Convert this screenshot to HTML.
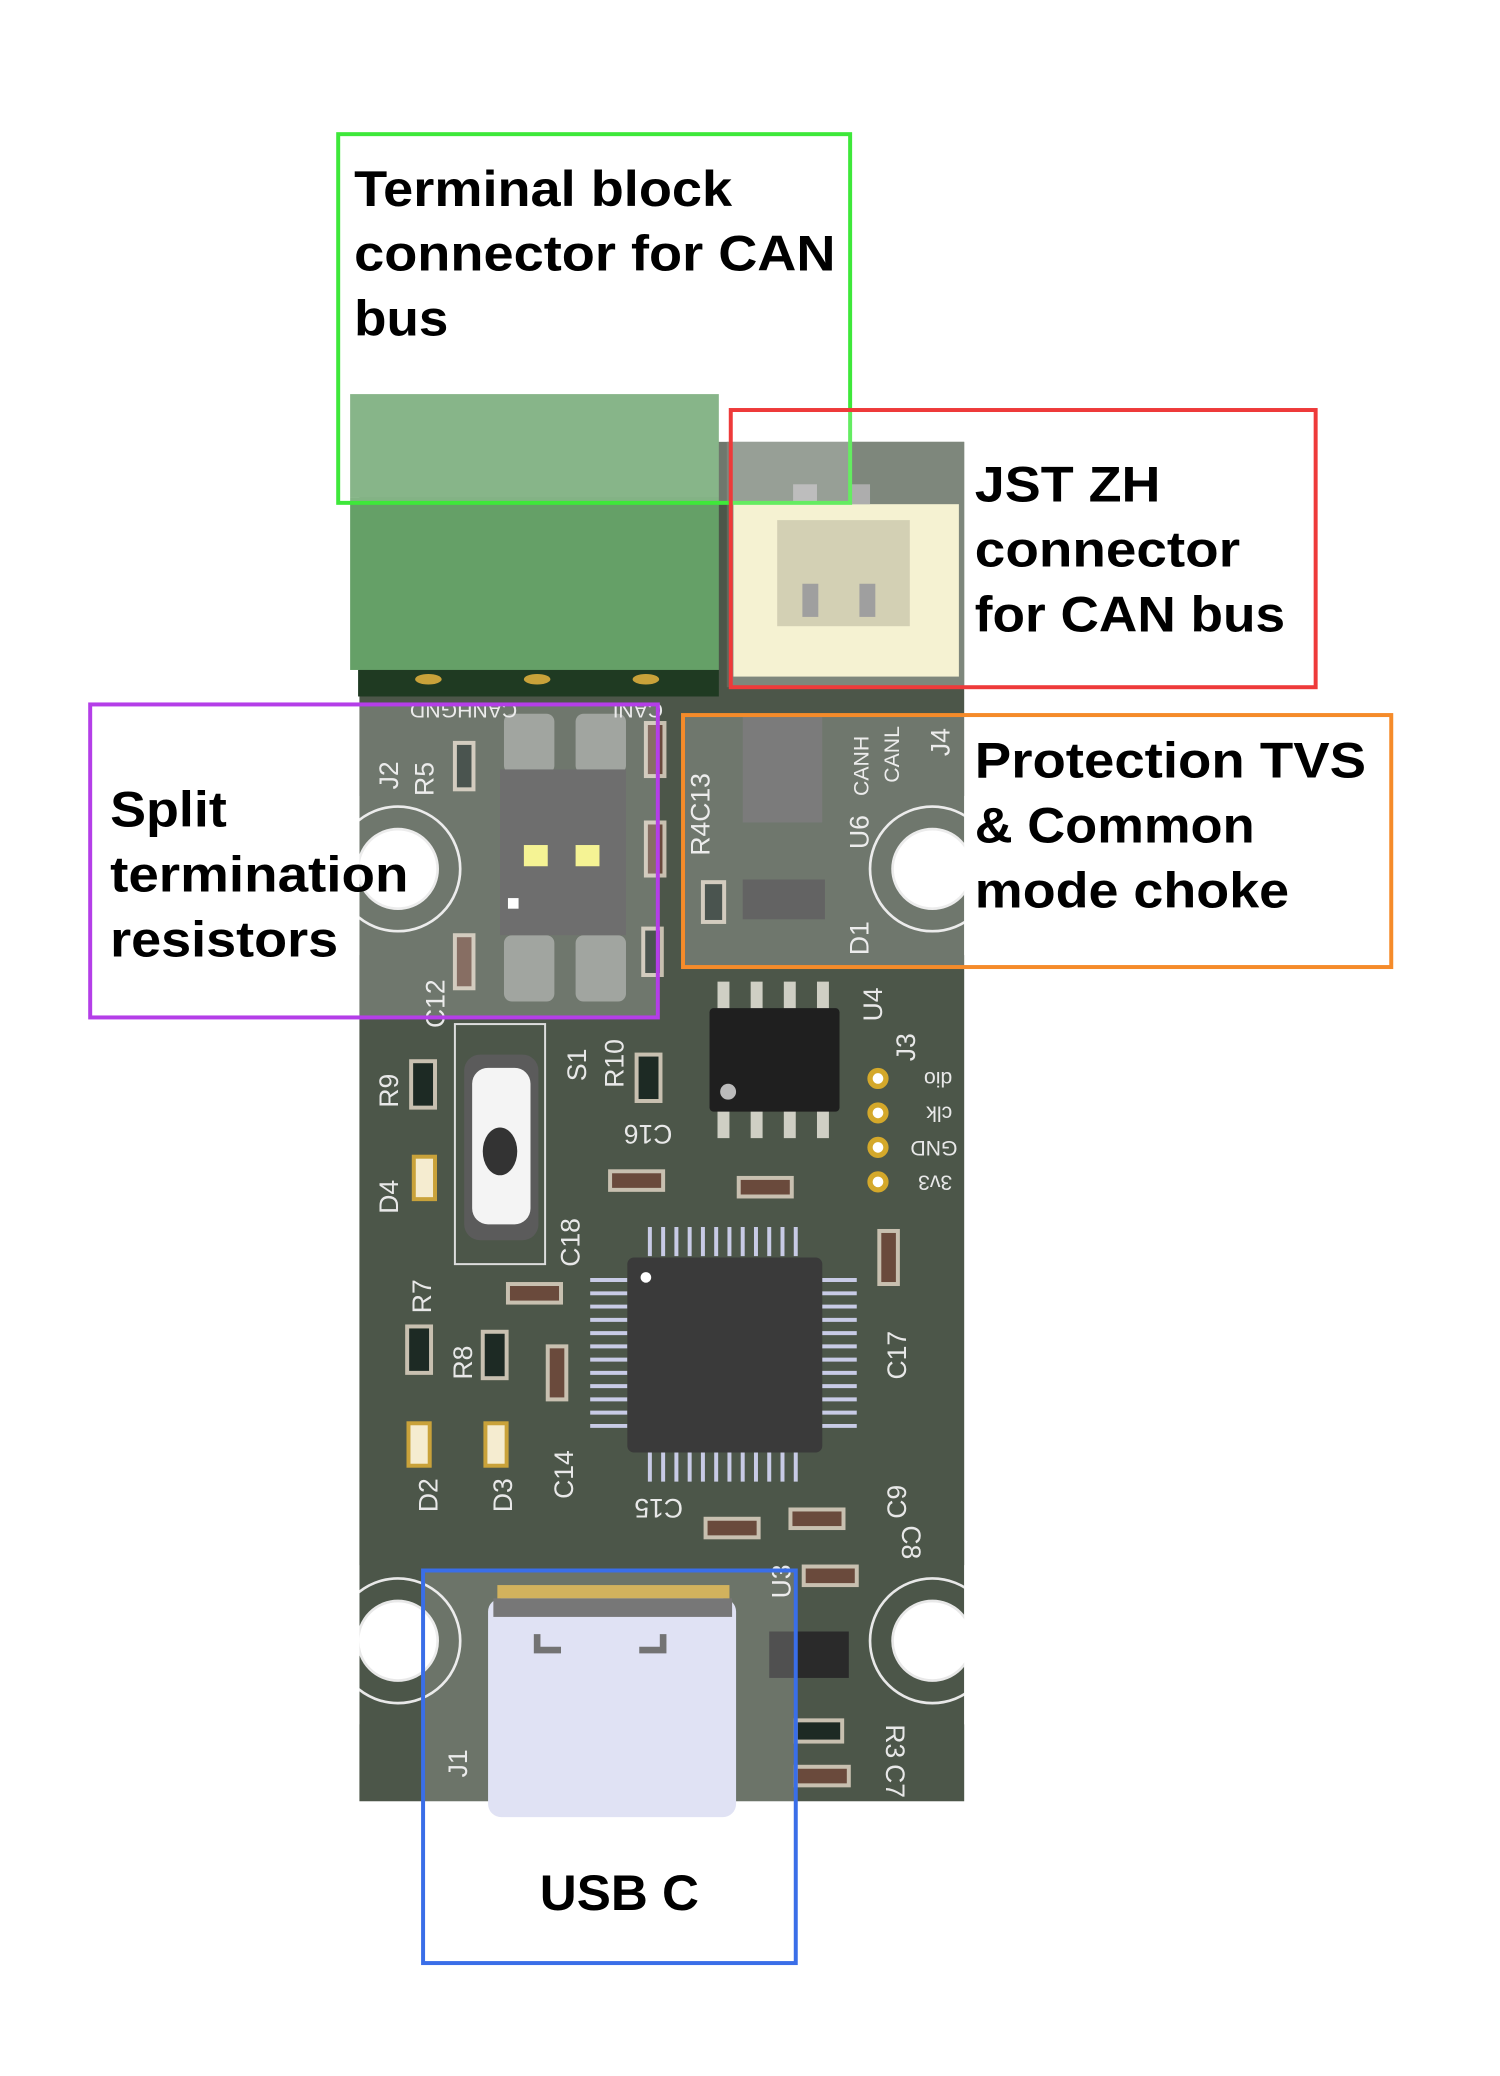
<!DOCTYPE html>
<html><head><meta charset="utf-8"><style>
html,body{margin:0;padding:0;background:#fff;}
svg{display:block;}
text{font-family:"Liberation Sans",sans-serif;}
.lb{font-weight:bold;font-size:38px;fill:#000;}
.sk{fill:#e8e8e8;font-size:20px;}
</style></head><body>
<svg width="1500" height="2076" viewBox="0 0 1131 1565" xmlns="http://www.w3.org/2000/svg">
<rect width="1131" height="1565" fill="#fff"/>
<rect x="271" y="333" width="456" height="1025" fill="#4c5649"/>
<g fill="#fff" stroke="#e8e8e8" stroke-width="2">
<circle cx="300" cy="655" r="30"/><circle cx="300" cy="655" r="47" fill="none"/>
<circle cx="703" cy="655" r="30"/><circle cx="703" cy="655" r="47" fill="none"/>
<circle cx="300" cy="1237" r="30"/><circle cx="300" cy="1237" r="47" fill="none"/>
<circle cx="703" cy="1237" r="30"/><circle cx="703" cy="1237" r="47" fill="none"/>
</g>
<rect x="250" y="600" width="21" height="120" fill="#fff"/>
<rect x="727" y="600" width="30" height="120" fill="#fff"/>
<rect x="250" y="1180" width="21" height="120" fill="#fff"/>
<rect x="727" y="1180" width="30" height="120" fill="#fff"/>
<rect x="264" y="297" width="278" height="78" fill="#6aa36c"/>
<rect x="264" y="375" width="278" height="130" fill="#65a067"/>
<rect x="270" y="505" width="272" height="20" fill="#1f3a22"/>
<ellipse cx="323" cy="512" rx="10" ry="4" fill="#c9a23a"/>
<ellipse cx="405" cy="512" rx="10" ry="4" fill="#c9a23a"/>
<ellipse cx="487" cy="512" rx="10" ry="4" fill="#c9a23a"/>
<rect x="548" y="333" width="179" height="185" fill="#5e6a5c"/>
<rect x="553" y="380" width="170" height="130" fill="#f3efc7"/>
<rect x="586" y="392" width="100" height="80" fill="#c9c5a2"/>
<rect x="605" y="440" width="12" height="25" fill="#888"/>
<rect x="648" y="440" width="12" height="25" fill="#888"/>
<rect x="598" y="365" width="18" height="15" fill="#999"/><rect x="640" y="365" width="16" height="15" fill="#999"/>
<rect x="380" y="538" width="38" height="45" rx="6" fill="#8a8f89"/><rect x="434" y="538" width="38" height="45" rx="6" fill="#8a8f89"/>
<rect x="380" y="705" width="38" height="50" rx="6" fill="#8a8f89"/><rect x="434" y="705" width="38" height="50" rx="6" fill="#8a8f89"/>
<rect x="377" y="580" width="95" height="125" fill="#4a4a4a"/>
<rect x="395" y="637" width="18" height="16" fill="#f3f07a"/><rect x="434" y="637" width="18" height="16" fill="#f3f07a"/>
<rect x="383" y="677" width="8" height="8" fill="#fff"/>
<rect x="560" y="540" width="60" height="80" fill="#5a5a5a"/>
<rect x="560" y="663" width="62" height="30" fill="#3d3d3d"/>
<rect x="343" y="772" width="68" height="181" fill="none" stroke="#ddd" stroke-width="1.5"/>
<rect x="350" y="795" width="56" height="140" rx="12" fill="#5b5b5b"/>
<rect x="356" y="805" width="44" height="118" rx="12" fill="#f4f4f4"/>
<ellipse cx="377" cy="868" rx="13" ry="18" fill="#333"/>
<g fill="#cfcfc4"><rect x="541" y="740" width="9" height="22"/><rect x="566" y="740" width="9" height="22"/><rect x="591" y="740" width="9" height="22"/><rect x="616" y="740" width="9" height="22"/>
<rect x="541" y="836" width="9" height="22"/><rect x="566" y="836" width="9" height="22"/><rect x="591" y="836" width="9" height="22"/><rect x="616" y="836" width="9" height="22"/></g>
<rect x="535" y="760" width="98" height="78" rx="3" fill="#1f1f1f"/>
<circle cx="549" cy="823" r="6" fill="#bbb"/>
<g fill="#fff" stroke="#d4a82a" stroke-width="4"><circle cx="662" cy="813" r="6"/><circle cx="662" cy="839" r="6"/><circle cx="662" cy="865" r="6"/><circle cx="662" cy="891" r="6"/></g>
<g stroke="#c8cbe6" stroke-width="3">
<path d="M490 925v22M500 925v22M510 925v22M520 925v22M530 925v22M540 925v22M550 925v22M560 925v22M570 925v22M580 925v22M590 925v22M600 925v22"/>
<path d="M490 1095v22M500 1095v22M510 1095v22M520 1095v22M530 1095v22M540 1095v22M550 1095v22M560 1095v22M570 1095v22M580 1095v22M590 1095v22M600 1095v22"/>
<path d="M445 965h28M445 975h28M445 985h28M445 995h28M445 1005h28M445 1015h28M445 1025h28M445 1035h28M445 1045h28M445 1055h28M445 1065h28M445 1075h28"/>
<path d="M618 965h28M618 975h28M618 985h28M618 995h28M618 1005h28M618 1015h28M618 1025h28M618 1035h28M618 1045h28M618 1055h28M618 1065h28M618 1075h28"/>
</g>
<rect x="473" y="948" width="147" height="147" rx="5" fill="#3a3a3a"/>
<circle cx="487" cy="963" r="4" fill="#fff"/>
<g fill="#6a4a3c" stroke="#c8c0b0" stroke-width="3">
<rect x="383" y="968" width="40" height="14"/><rect x="413" y="1015" width="14" height="40"/><rect x="460" y="883" width="40" height="14"/>
<rect x="557" y="888" width="40" height="14"/><rect x="663" y="928" width="14" height="40"/><rect x="532" y="1145" width="40" height="14"/>
<rect x="596" y="1138" width="40" height="14"/><rect x="606" y="1181" width="40" height="14"/><rect x="600" y="1332" width="40" height="14"/>
<rect x="343" y="705" width="14" height="40"/><rect x="487" y="545" width="14" height="40"/><rect x="487" y="620" width="14" height="40"/>
</g>
<g fill="#1d2a24" stroke="#c8c0b0" stroke-width="3">
<rect x="310" y="800" width="18" height="35"/><rect x="307" y="1000" width="18" height="35"/><rect x="364" y="1004" width="18" height="35"/>
<rect x="480" y="795" width="18" height="35"/><rect x="343" y="560" width="14" height="35"/><rect x="530" y="665" width="16" height="30"/>
<rect x="485" y="700" width="14" height="35"/><rect x="600" y="1297" width="35" height="16"/>
</g>
<g fill="#f5ecd0" stroke="#c9a23a" stroke-width="3">
<rect x="312" y="872" width="16" height="32"/><rect x="308" y="1073" width="16" height="32"/><rect x="366" y="1073" width="16" height="32"/>
</g>
<rect x="580" y="1230" width="60" height="35" fill="#2a2a2a"/>
<rect x="375" y="1195" width="175" height="14" fill="#c9a23a"/>
<rect x="368" y="1205" width="187" height="165" rx="10" fill="#d9dcf2"/>
<rect x="372" y="1205" width="180" height="14" fill="#5a5a5a"/>
<path d="M405 1232v12h18M500 1232v12h-18" stroke="#555" stroke-width="5" fill="none"/>
<g class="sk">
<text transform="translate(330,1140) rotate(-90)">D2</text>
<text transform="translate(386,1140) rotate(-90)">D3</text>
<text transform="translate(432,1130) rotate(-90)">C14</text>
<text transform="translate(300,915) rotate(-90)">D4</text>
<text transform="translate(300,835) rotate(-90)">R9</text>
<text transform="translate(325,990) rotate(-90)">R7</text>
<text transform="translate(356,1040) rotate(-90)">R8</text>
<text transform="translate(335,775) rotate(-90)">C12</text>
<text transform="translate(442,815) rotate(-90)">S1</text>
<text transform="translate(470,820) rotate(-90)">R10</text>
<text transform="translate(437,955) rotate(-90)">C18</text>
<text transform="translate(683,1040) rotate(-90)">C17</text>
<text transform="translate(683,1145) rotate(-90)">C9</text>
<text transform="translate(352,1340) rotate(-90)">J1</text>
<text transform="translate(596,1205) rotate(-90)">U3</text>
<text transform="translate(668,1300) rotate(90)">R3</text>
<text transform="translate(668,1330) rotate(90)">C7</text>
<text transform="translate(680,1150) rotate(90)">C8</text>
<text transform="translate(515,1130) rotate(180)">C15</text>
<text transform="translate(507,848) rotate(180)">C16</text>
<text transform="translate(300,595) rotate(-90)">J2</text>
<text transform="translate(327,600) rotate(-90)">R5</text>
<text transform="translate(535,645) rotate(-90)">R4C13</text>
<text transform="translate(655,640) rotate(-90)">U6</text>
<text transform="translate(655,720) rotate(-90)">D1</text>
<text transform="translate(665,770) rotate(-90)">U4</text>
<text transform="translate(690,800) rotate(-90)">J3</text>
<text transform="translate(716,570) rotate(-90)">J4</text>
<text font-size="16" transform="translate(655,600) rotate(-90)">CANH</text>
<text font-size="16" transform="translate(678,590) rotate(-90)">CANL</text>
<text font-size="16" transform="translate(390,530) rotate(180)">CANHGND</text>
<text font-size="16" transform="translate(500,530) rotate(180)">CANL</text>
<text font-size="16" transform="translate(718,808) rotate(180)">dio</text>
<text font-size="16" transform="translate(718,834) rotate(180)">clk</text>
<text font-size="16" transform="translate(722,860) rotate(180)">GND</text>
<text font-size="16" transform="translate(718,886) rotate(180)">3v3</text>
</g>
<rect x="255" y="101" width="386" height="278" fill="#fff" fill-opacity="0.2" stroke="#3ee83a" stroke-width="3"/>
<rect x="551" y="309" width="441" height="209" fill="#fff" fill-opacity="0.2" stroke="#ee3a3a" stroke-width="3"/>
<rect x="515" y="539" width="534" height="190" fill="#fff" fill-opacity="0.2" stroke="#f58b2a" stroke-width="3"/>
<rect x="68" y="531" width="428" height="236" fill="#fff" fill-opacity="0.2" stroke="#b43ee8" stroke-width="3"/>
<rect x="319" y="1184" width="281" height="296" fill="#fff" fill-opacity="0.18" stroke="#3a6ee8" stroke-width="3"/>
<text class="lb" x="267" y="155" textLength="285" lengthAdjust="spacingAndGlyphs">Terminal block</text>
<text class="lb" x="267" y="204" textLength="363" lengthAdjust="spacingAndGlyphs">connector for CAN</text>
<text class="lb" x="267" y="253" textLength="71" lengthAdjust="spacingAndGlyphs">bus</text>
<text class="lb" x="735" y="378" textLength="140" lengthAdjust="spacingAndGlyphs">JST ZH</text>
<text class="lb" x="735" y="427" textLength="200" lengthAdjust="spacingAndGlyphs">connector</text>
<text class="lb" x="735" y="476" textLength="234" lengthAdjust="spacingAndGlyphs">for CAN bus</text>
<text class="lb" x="735" y="586" textLength="295" lengthAdjust="spacingAndGlyphs">Protection TVS</text>
<text class="lb" x="735" y="635" textLength="211" lengthAdjust="spacingAndGlyphs">&amp; Common</text>
<text class="lb" x="735" y="684" textLength="237" lengthAdjust="spacingAndGlyphs">mode choke</text>
<text class="lb" x="83" y="623" textLength="88" lengthAdjust="spacingAndGlyphs">Split</text>
<text class="lb" x="83" y="672" textLength="225" lengthAdjust="spacingAndGlyphs">termination</text>
<text class="lb" x="83" y="721" textLength="172" lengthAdjust="spacingAndGlyphs">resistors</text>
<text class="lb" x="407" y="1440" textLength="120" lengthAdjust="spacingAndGlyphs">USB C</text>
</svg>
</body></html>
